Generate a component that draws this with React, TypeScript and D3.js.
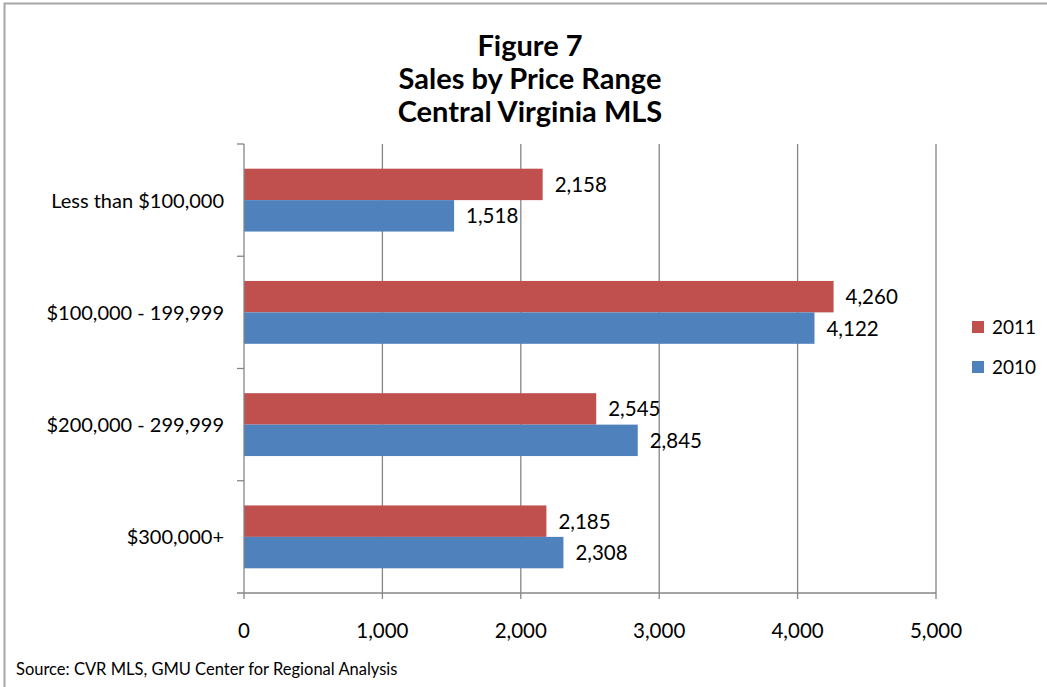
import React from "react";
import * as d3 from "d3";

const categories = ["Less than $100,000", "$100,000 - 199,999", "$200,000 - 299,999", "$300,000+"];
const series2011 = [2158, 4260, 2545, 2185];
const series2010 = [1518, 4122, 2845, 2308];
const seriesNames = ["2011", "2010"];
const seriesColors = ["#C0504D", "#4F81BD"];
const xTicks = [0, 1000, 2000, 3000, 4000, 5000];
const titleLines = ["Figure 7", "Sales by Price Range", "Central Virginia MLS"];
const sourceText = "Source: CVR MLS, GMU Center for Regional Analysis";

const W = 1047, H = 687;
const FONT = "Lato, 'Open Sans', sans-serif";
const FS = 20.5;

export default function App() {
  const left = 244, right = 936, top = 144, bottom = 593;
  const x = d3.scaleLinear().domain([0, 5000]).range([left, right]);
  const y = d3.scaleBand().domain(categories).range([top, bottom]).paddingInner(0).paddingOuter(0);
  const barH = y.bandwidth() * 0.28;
  const groupOffset = (y.bandwidth() - 2 * barH) / 2;
  const inner = d3.scaleBand().domain(seriesNames).range([groupOffset, groupOffset + 2 * barH]).padding(0);
  const fmt = d3.format(",");
  const series = [series2011, series2010];
  return (
    <svg width={W} height={H} style={{ position: "absolute", left: 0, top: 0, display: "block" }}>
      <rect x={0} y={0} width={W} height={H} fill="#fff" />
      <rect x={4.5} y={3.5} width={W + 10} height={H + 10} fill="none" stroke="#A6A6A6" strokeWidth={2} />
      {titleLines.map((t, i) => (
        <text key={i} x={530} y={56 + i * 33} textAnchor="middle" fontFamily={FONT} fontWeight="bold" fontSize={29} fill="#000">{t}</text>
      ))}
      {xTicks.slice(1).map((v) => (
        <line key={v} x1={x(v)} x2={x(v)} y1={top} y2={bottom} stroke="#868686" strokeWidth={1.3} />
      ))}
      {categories.map((c, ci) => (
        <g key={c}>
          {series.map((s, si) => {
            const yy = (y(c) as number) + (inner(seriesNames[si]) as number);
            return (
              <g key={si}>
                <rect x={x(0)} y={yy} width={x(s[ci]) - x(0)} height={inner.bandwidth()} fill={seriesColors[si]} />
                <text x={x(s[ci]) + 12} y={yy + inner.bandwidth() / 2 + 7.5} fontFamily={FONT} fontSize={FS} fill="#000">{fmt(s[ci])}</text>
              </g>
            );
          })}
          <text x={224} y={(y(c) as number) + y.bandwidth() / 2 + 7.5} textAnchor="end" fontFamily={FONT} fontSize={20} fill="#000">{c}</text>
        </g>
      ))}
      <line x1={left} x2={left} y1={top} y2={bottom} stroke="#868686" strokeWidth={1.3} />
      <line x1={left - 7} x2={right} y1={bottom} y2={bottom} stroke="#868686" strokeWidth={1.3} />
      {categories.map((c) => (
        <line key={c} x1={left - 7} x2={left} y1={y(c)} y2={y(c)} stroke="#868686" strokeWidth={1.3} />
      ))}
      {xTicks.map((v) => (
        <g key={v}>
          <line x1={x(v)} x2={x(v)} y1={bottom} y2={bottom + 6} stroke="#868686" strokeWidth={1.3} />
          <text x={x(v)} y={638} textAnchor="middle" fontFamily={FONT} fontSize={FS} fill="#000">{fmt(v)}</text>
        </g>
      ))}
      {seriesNames.map((n, i) => (
        <g key={n}>
          <rect x={972} y={321 + i * 40} width={12} height={12} fill={seriesColors[i]} />
          <text x={992} y={334 + i * 40} fontFamily={FONT} fontSize={19} fill="#000">{n}</text>
        </g>
      ))}
      <text x={16} y={675} fontFamily={FONT} fontSize={16.5} fill="#000">{sourceText}</text>
    </svg>
  );
}
